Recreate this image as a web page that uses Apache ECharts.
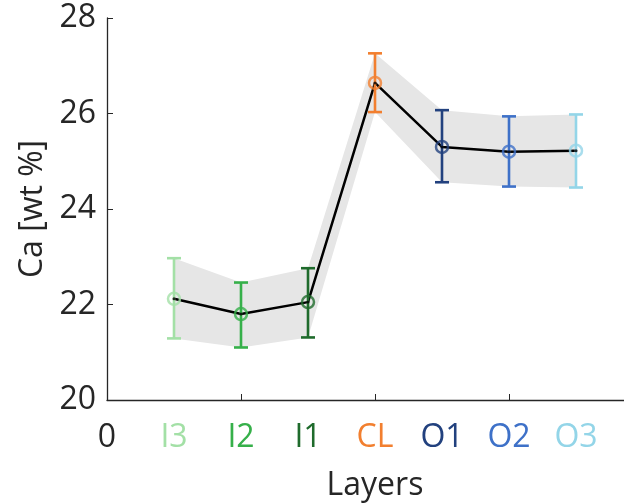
<!DOCTYPE html>
<html><head><meta charset="utf-8">
<script src="https://cdn.jsdelivr.net/npm/echarts@6/dist/echarts.min.js"></script>
<style>html,body{margin:0;padding:0;background:#fff}#c{width:624px;height:503px}</style>
</head><body><div id="c"></div>
<script>
const categories = ['I3','I2','I1','CL','O1','O2','O3'];
const tickLabels = ['0','I3','I2','I1','CL','O1','O2','O3'];
const xPositions = [1,2,3,4,5,6,7];
const meanValues = [22.12, 21.80, 22.05, 26.64, 25.30, 25.20, 25.22];
const upperValues = [22.97, 22.46, 22.76, 27.26, 26.07, 25.94, 25.98];
const lowerValues = [21.29, 21.10, 21.31, 26.03, 24.56, 24.47, 24.45];
const layerColors = ['#a3e0a6','#36b04a','#1f6b2c','#f27f2f','#22417e','#3e71c8','#93d5e8'];
const labelColors = ['#262626'].concat(layerColors);

const chart = echarts.init(document.getElementById('c'));
const FONT = 'Open Sans';
chart.setOption({
  animation: false,
  grid: {left: 107, top: 18, bottom: 103, right: -19, containLabel: false, outerBoundsMode: 'none'},
  xAxis: {
    type: 'value', min: 0, max: 8, interval: 1,
    name: 'Layers', nameLocation: 'middle', nameGap: 70,
    nameTextStyle: {fontFamily: FONT, fontSize: 32, color: '#262626'},
    axisLine: {lineStyle: {color: '#262626', width: 1.3}},
    axisTick: {inside: true, length: 6, customValues: [0,2,4,6,8], lineStyle: {color: '#262626'}},
    axisLabel: {
      customValues: [0,1,2,3,4,5,6,7], margin: 22,
      fontFamily: FONT, fontSize: 32,
      formatter: v => tickLabels[v],
      color: (v, i) => labelColors[Math.round(Number(v))]
    },
    splitLine: {show: false}
  },
  yAxis: {
    type: 'value', min: 20, max: 28, interval: 2,
    name: 'Ca [wt %]', nameLocation: 'middle', nameGap: 55,
    nameTextStyle: {fontFamily: FONT, fontSize: 32, color: '#262626'},
    axisLine: {show: true, lineStyle: {color: '#262626', width: 1.3}},
    axisTick: {show: true, inside: true, length: 6, lineStyle: {color: '#262626'}},
    axisLabel: {fontFamily: FONT, fontSize: 32, color: '#262626', margin: 11},
    splitLine: {show: false}
  },
  series: [
    {
      type: 'custom', z: 1,
      data: xPositions.map((x, i) => [x, upperValues[i], lowerValues[i]]),
      renderItem: function (params, api) {
        if (params.dataIndex !== 0) return null;
        const pts = [];
        for (let i = 0; i < xPositions.length; i++) pts.push(api.coord([xPositions[i], upperValues[i]]));
        for (let i = xPositions.length - 1; i >= 0; i--) pts.push(api.coord([xPositions[i], lowerValues[i]]));
        return {type: 'polygon', shape: {points: pts}, style: {fill: '#e6e6e6'}};
      }
    },
    {
      type: 'line', z: 3, symbol: 'none',
      data: xPositions.map((x, i) => [x, meanValues[i]]),
      lineStyle: {color: '#000', width: 2.5}
    },
    {
      type: 'custom', z: 4,
      data: xPositions.map((x, i) => [x, upperValues[i], lowerValues[i]]),
      renderItem: function (params, api) {
        const i = params.dataIndex;
        const top = api.coord([api.value(0), api.value(1)]);
        const bot = api.coord([api.value(0), api.value(2)]);
        const w = 7;
        const st = {stroke: layerColors[i], lineWidth: 2.6};
        return {type: 'group', children: [
          {type: 'line', shape: {x1: top[0], y1: top[1], x2: bot[0], y2: bot[1]}, style: st},
          {type: 'line', shape: {x1: top[0]-w, y1: top[1], x2: top[0]+w, y2: top[1]}, style: st},
          {type: 'line', shape: {x1: bot[0]-w, y1: bot[1], x2: bot[0]+w, y2: bot[1]}, style: st}
        ]};
      }
    },
    {
      type: 'scatter', z: 5, symbol: 'circle', symbolSize: 12,
      data: xPositions.map((x, i) => ({value: [x, meanValues[i]], itemStyle: {color: 'rgba(0,0,0,0)', borderColor: layerColors[i], borderWidth: 2.5}}))
    },
    {
      type: 'scatter', z: 6, symbol: 'circle', symbolSize: 3,
      data: xPositions.map((x, i) => [x, meanValues[i]]),
      itemStyle: {color: '#000'}
    }
  ]
});
</script></body></html>
